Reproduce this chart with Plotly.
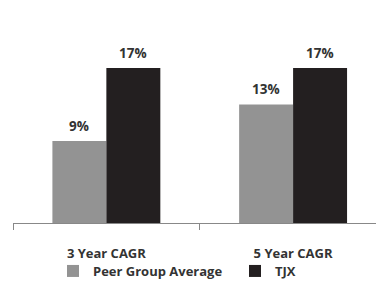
import plotly.graph_objects as go

categories = ["3 Year CAGR", "5 Year CAGR"]
peer_values = [9, 13]
tjx_values = [17, 17]
series_names = ["Peer Group Average", "TJX"]
colors = ["#939393", "#231f20"]
legend_ids = ["legend", "legend2"]

FONT = "Open Sans"
TXT = "#333333"
W, H = 376, 284

fig = go.Figure()
for name, vals, col, lg in zip(series_names, [peer_values, tjx_values], colors, legend_ids):
    fig.add_trace(go.Bar(
        x=categories, y=vals, name=name, legend=lg,
        marker=dict(color=col, line=dict(width=0)),
    ))

# value labels above bars
for vals, shift in zip([peer_values, tjx_values], [-27, 27]):
    for c, v in zip(categories, vals):
        fig.add_annotation(x=c, y=v, text=f"{v}%", showarrow=False,
                           xshift=shift, yshift=15,
                           font=dict(family=FONT, size=13.5, color=TXT, weight="bold"))

legend_style = dict(orientation="h", xref="container", xanchor="left",
                    y=13 / H, yref="container", yanchor="middle",
                    font=dict(family=FONT, size=13, color=TXT, weight="bold"),
                    itemwidth=30, bgcolor="rgba(0,0,0,0)", borderwidth=0)

fig.update_layout(
    width=W, height=H,
    margin=dict(l=13, r=0, t=30, b=61, autoexpand=False),
    paper_bgcolor="white", plot_bgcolor="white",
    barmode="group", bargap=0.422, bargroupgap=0,
    font=dict(family=FONT, size=12, color=TXT),
    showlegend=True,
    legend=dict(x=53 / W, **legend_style),
    legend2=dict(x=235 / W, **legend_style),
    xaxis=dict(range=[-0.5, 1.444], showline=True, linecolor="#888888", linewidth=1,
               ticks="outside", tickson="boundaries", ticklen=6, tickcolor="#888888",
               tickfont=dict(family=FONT, size=13, color=TXT, weight="bold"),
               ticklabelstandoff=18, showgrid=False, fixedrange=True),
    yaxis=dict(range=[0, 21.16], visible=False, showgrid=False, fixedrange=True),
)

fig.write_html("out.html", config={"displayModeBar": False},
               post_script="document.body.style.margin='0';")
